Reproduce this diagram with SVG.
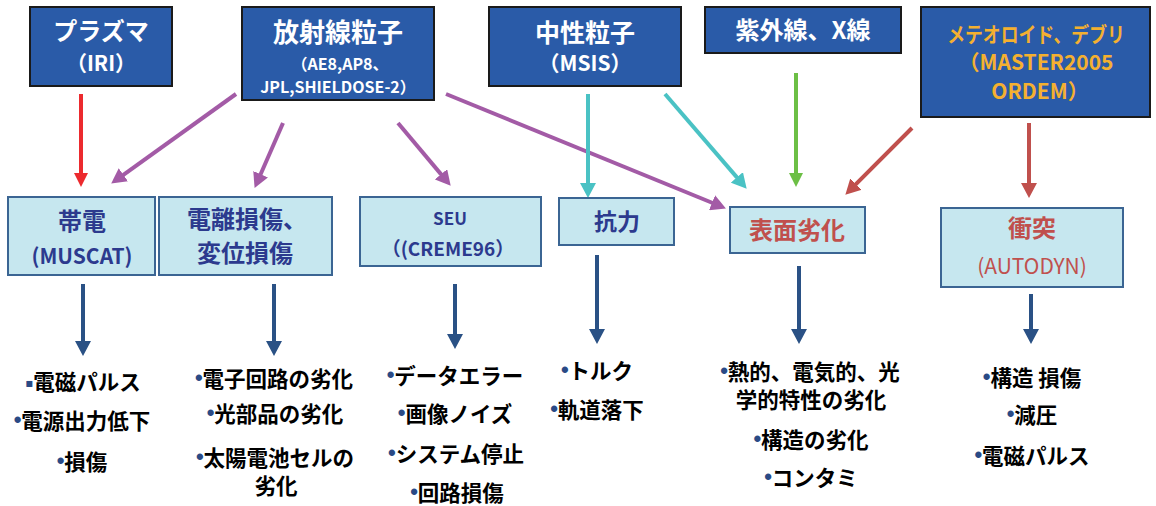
<svg xmlns="http://www.w3.org/2000/svg" width="1156" height="506" viewBox="0 0 1156 506">
<style>
text{font-family:"Noto Sans CJK JP","Noto Sans",sans-serif;text-anchor:middle}
.top{fill:#2a5ba8;stroke:#1a1a1a;stroke-width:2}
.mid{fill:#c6e7ef;stroke:#3b6593;stroke-width:2}
.tw{fill:#ffffff;font-weight:bold}
.to{fill:#f4b030;font-weight:bold}
.nv{fill:#2c3a8e;font-weight:bold}
.rd{fill:#c0504d}
.it{fill:#000;font-weight:bold;font-size:21.5px}
.b{fill:#2a4a85;font-size:22px;font-family:"Liberation Sans",sans-serif}
.sq{fill:#2a4a85;font-size:12px;font-family:"DejaVu Sans",sans-serif}
.c{fill:none;stroke-width:4}
</style>
<defs>
<marker id="mRed" markerUnits="userSpaceOnUse" markerWidth="14" markerHeight="14" refX="6" refY="7" orient="auto"><path d="M0,0L14,7L0,14z" fill="#ec2a2e"/></marker>
<marker id="mPur" markerUnits="userSpaceOnUse" markerWidth="15" markerHeight="16" refX="6" refY="8" orient="auto"><path d="M0,0L15,8L0,16z" fill="#a35ba6"/></marker>
<marker id="mCy" markerUnits="userSpaceOnUse" markerWidth="15" markerHeight="16" refX="6" refY="8" orient="auto"><path d="M0,0L15,8L0,16z" fill="#4ac2c4"/></marker>
<marker id="mGr" markerUnits="userSpaceOnUse" markerWidth="14" markerHeight="14" refX="6" refY="7" orient="auto"><path d="M0,0L14,7L0,14z" fill="#6cbf45"/></marker>
<marker id="mDr" markerUnits="userSpaceOnUse" markerWidth="15" markerHeight="16" refX="6" refY="8" orient="auto"><path d="M0,0L15,8L0,16z" fill="#c0504d"/></marker>
<marker id="mBl" markerUnits="userSpaceOnUse" markerWidth="15" markerHeight="16" refX="6" refY="8" orient="auto"><path d="M0,0L15,8L0,16z" fill="#2a5185"/></marker>
</defs>

<g id="connectors">
<line class="c" x1="81" y1="94" x2="81" y2="179" stroke="#ec2a2e" stroke-width="3.5" marker-end="url(#mRed)"/>
<line class="c" x1="236" y1="94" x2="118.5" y2="178.3" stroke="#a35ba6" marker-end="url(#mPur)"/>
<line class="c" x1="283" y1="123" x2="258.2" y2="179.7" stroke="#a35ba6" marker-end="url(#mPur)"/>
<line class="c" x1="398" y1="123" x2="444.9" y2="178.9" stroke="#a35ba6" marker-end="url(#mPur)"/>
<line class="c" x1="446" y1="94" x2="717.6" y2="205" stroke="#a35ba6" marker-end="url(#mPur)"/>
<line class="c" x1="588" y1="94" x2="588" y2="189" stroke="#4ac2c4" marker-end="url(#mCy)"/>
<line class="c" x1="665" y1="94" x2="740.8" y2="181.9" stroke="#4ac2c4" marker-end="url(#mCy)"/>
<line class="c" x1="796" y1="73" x2="796" y2="179" stroke="#6cbf45" stroke-width="3.5" marker-end="url(#mGr)"/>
<line class="c" x1="912" y1="128" x2="851.7" y2="188.3" stroke="#c0504d" marker-end="url(#mDr)"/>
<line class="c" x1="1029" y1="123" x2="1029" y2="189" stroke="#c0504d" marker-end="url(#mDr)"/>
<line class="c" x1="83" y1="284" x2="83" y2="347" stroke="#2a5185" marker-end="url(#mBl)"/>
<line class="c" x1="274" y1="284" x2="274" y2="347" stroke="#2a5185" marker-end="url(#mBl)"/>
<line class="c" x1="455" y1="284" x2="455" y2="340" stroke="#2a5185" marker-end="url(#mBl)"/>
<line class="c" x1="597" y1="255" x2="597" y2="335" stroke="#2a5185" marker-end="url(#mBl)"/>
<line class="c" x1="799" y1="266" x2="799" y2="335" stroke="#2a5185" marker-end="url(#mBl)"/>
<line class="c" x1="1031" y1="294" x2="1031" y2="335" stroke="#2a5185" marker-end="url(#mBl)"/>
</g>

<g id="plasma">
<rect class="top" x="30" y="7" width="142" height="79"/>
<text class="tw" x="101" y="40" font-size="24">プラズマ</text>
<text class="tw" x="101" y="71" font-size="21">（IRI）</text>
</g>
<g id="radiation">
<rect class="top" x="242" y="7" width="192" height="93"/>
<text class="tw" x="338" y="42" font-size="26">放射線粒子</text>
<text class="tw" x="340" y="70" font-size="16">（AE8,AP8、</text>
<text class="tw" x="338" y="93" font-size="16">JPL,SHIELDOSE-2）</text>
</g>
<g id="neutral">
<rect class="top" x="489" y="7" width="192" height="79"/>
<text class="tw" x="585" y="42" font-size="25">中性粒子</text>
<text class="tw" x="585" y="71" font-size="21">（MSIS）</text>
</g>
<g id="uvx">
<rect class="top" x="705" y="7" width="196" height="46"/>
<text class="tw" x="803" y="39" font-size="24">紫外線、X線</text>
</g>
<g id="meteoroid">
<rect class="top" x="921" y="7" width="229" height="110"/>
<text class="to" transform="translate(1036,42) scale(0.85,1)" x="0" y="0" font-size="21">メテオロイド、デブリ</text>
<text class="to" x="1036" y="70" font-size="21">（MASTER2005</text>
<text class="to" x="1040" y="99" font-size="21">ORDEM）</text>
</g>

<g id="charging">
<rect class="mid" x="8" y="197" width="147" height="78"/>
<text class="nv" x="82" y="230" font-size="24">帯電</text>
<text class="nv" x="82" y="264" font-size="21">(MUSCAT)</text>
</g>
<g id="ionization">
<rect class="mid" x="159" y="197" width="173" height="78"/>
<text class="nv" x="247" y="228" font-size="24">電離損傷、</text>
<text class="nv" x="245" y="262" font-size="24">変位損傷</text>
</g>
<g id="seu">
<rect class="mid" x="360" y="197" width="181" height="69"/>
<text class="nv" x="450" y="225" font-size="17">SEU</text>
<text class="nv" x="448" y="256" font-size="19">（(CREME96）</text>
</g>
<g id="drag">
<rect class="mid" x="559" y="198" width="115" height="47"/>
<text class="nv" x="617" y="230" font-size="23">抗力</text>
</g>
<g id="surface">
<rect class="mid" x="730" y="207" width="135" height="46"/>
<text class="rd" x="797" y="239" font-size="24" font-weight="bold">表面劣化</text>
</g>
<g id="impact">
<rect class="mid" x="941" y="208" width="182" height="79"/>
<text class="rd" x="1032" y="237" font-size="24" font-weight="bold">衝突</text>
<text class="rd" x="1032" y="274" font-size="21">(AUTODYN)</text>
</g>

<g id="effects-charging">
<text class="it" x="83" y="390"><tspan class="sq" dy="-3">▪</tspan><tspan dy="3">電磁パルス</tspan></text>
<text class="it" x="82" y="429"><tspan class="b" dy="-2">•</tspan><tspan dy="2">電源出力低下</tspan></text>
<text class="it" x="82" y="470"><tspan class="b" dy="-2">•</tspan><tspan dy="2">損傷</tspan></text>
</g>
<g id="effects-ionization">
<text class="it" x="274" y="387"><tspan class="b" dy="-2">•</tspan><tspan dy="2">電子回路の劣化</tspan></text>
<text class="it" x="275" y="422"><tspan class="b" dy="-2">•</tspan><tspan dy="2">光部品の劣化</tspan></text>
<text class="it" x="275" y="466"><tspan class="b" dy="-2">•</tspan><tspan dy="2">太陽電池セルの</tspan></text>
<text class="it" x="276" y="494">劣化</text>
</g>
<g id="effects-seu">
<text class="it" x="455" y="384"><tspan class="b" dy="-2">•</tspan><tspan dy="2">データエラー</tspan></text>
<text class="it" x="455" y="422"><tspan class="b" dy="-2">•</tspan><tspan dy="2">画像ノイズ</tspan></text>
<text class="it" x="456" y="462"><tspan class="b" dy="-2">•</tspan><tspan dy="2">システム停止</tspan></text>
<text class="it" x="457" y="501"><tspan class="b" dy="-2">•</tspan><tspan dy="2">回路損傷</tspan></text>
</g>
<g id="effects-drag">
<text class="it" x="597" y="379"><tspan class="b" dy="-2">•</tspan><tspan dy="2">トルク</tspan></text>
<text class="it" x="597" y="418"><tspan class="b" dy="-2">•</tspan><tspan dy="2">軌道落下</tspan></text>
</g>
<g id="effects-surface">
<text class="it" x="810" y="380"><tspan class="b" dy="-2">•</tspan><tspan dy="2">熱的、電気的、光</tspan></text>
<text class="it" x="811" y="408">学的特性の劣化</text>
<text class="it" x="811" y="448"><tspan class="b" dy="-2">•</tspan><tspan dy="2">構造の劣化</tspan></text>
<text class="it" x="811" y="486"><tspan class="b" dy="-2">•</tspan><tspan dy="2">コンタミ</tspan></text>
</g>
<g id="effects-impact">
<text class="it" x="1032" y="386"><tspan class="b" dy="-2">•</tspan><tspan dy="2">構造 損傷</tspan></text>
<text class="it" x="1032" y="423"><tspan class="b" dy="-2">•</tspan><tspan dy="2">減圧</tspan></text>
<text class="it" x="1032" y="464"><tspan class="b" dy="-2">•</tspan><tspan dy="2">電磁パルス</tspan></text>
</g>
</svg>
